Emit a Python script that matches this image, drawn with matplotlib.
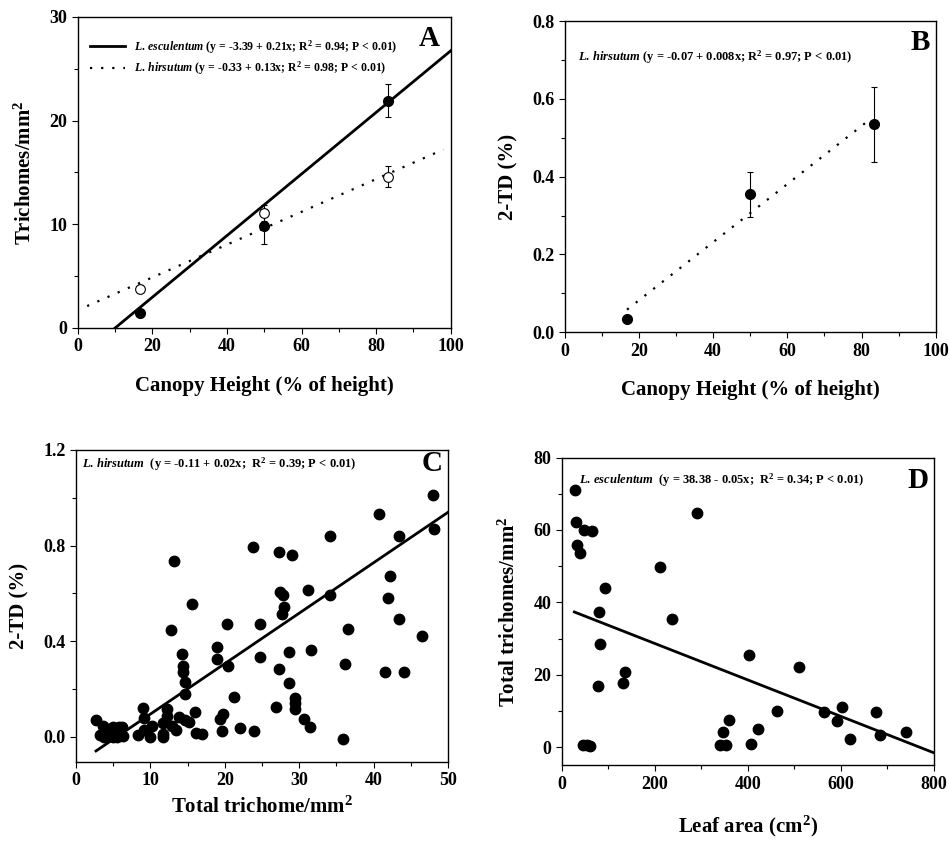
import numpy as np
import matplotlib
matplotlib.use('Agg')
import matplotlib.pyplot as plt
from matplotlib.ticker import MultipleLocator

plt.rcParams.update({
    'font.family': ['Liberation Serif', 'DejaVu Serif'],
    'font.weight': 'bold',
    'axes.labelweight': 'bold',
    'mathtext.fontset': 'custom',
    'mathtext.rm': 'Liberation Serif:bold',
    'mathtext.it': 'Liberation Serif:italic:bold',
    'mathtext.bf': 'Liberation Serif:bold',
    'axes.linewidth': 1.0,
    'xtick.direction': 'out',
    'ytick.direction': 'out',
    'xtick.major.size': 4,
    'ytick.major.size': 4,
    'xtick.minor.size': 3,
    'ytick.minor.size': 3,
    'xtick.labelsize': 13,
    'ytick.labelsize': 13,
    'axes.labelsize': 15,
})

# ---- panel A: trichome density vs canopy height
canopy = [16.7, 50.0, 83.3]
esc_trich = [1.4, 9.8, 21.9]
esc_err = [0.3, 1.7, 1.6]
hir_trich = [3.8, 11.1, 14.6]
hir_err = [0.3, 0.8, 1.0]
# regression lines as drawn (x range, intercept, slope)
esc_line_x = [10, 100]
esc_line_coef = (-2.97, 0.297)
hir_line_x = [2.5, 98]
hir_line_coef = (1.72, 0.158)

# ---- panel B: 2-TD vs canopy height (L. hirsutum)
td_canopy = [16.7, 50.0, 83.4]
td_mean = [0.034, 0.355, 0.535]
td_err_lo = [0.0, 0.058, 0.097]
td_err_hi = [0.0, 0.057, 0.095]
td_line_x = [16.8, 81.6]
td_line_coef = (-0.0675, 0.00747)

# ---- panel C: 2-TD vs total trichomes (L. hirsutum)
c_x = [48.0, 40.8, 48.1, 34.2, 43.4, 23.8, 27.3, 29.1, 13.2, 42.2,
       31.2, 27.4, 27.8, 34.1, 42.0, 28.0, 27.7, 15.6, 43.4, 20.3,
       24.8, 36.6, 12.8, 46.5, 19.0, 14.3, 28.6, 31.6, 24.8, 19.0,
       14.4, 20.5, 36.1, 14.4, 27.3, 41.6, 44.1, 14.7, 28.7, 14.7,
       21.2, 29.5, 29.5, 29.4, 26.9, 9.0, 12.2, 16.0, 19.8, 19.4,
       30.6, 9.1, 12.3, 13.9, 14.7, 15.2, 2.7, 3.7, 11.7, 12.9,
       13.4, 9.1, 8.4, 10.2, 10.0, 11.7, 11.7, 16.1, 17.0, 19.7,
       22.0, 23.9, 31.4, 35.9, 3.3, 4.1, 4.6, 5.0, 5.5, 5.8,
       6.2, 6.3, 5.0, 3.8, 5.7, 4.3]
c_y = [1.011, 0.933, 0.871, 0.842, 0.842, 0.794, 0.773, 0.762, 0.736, 0.671,
       0.613, 0.606, 0.594, 0.592, 0.582, 0.545, 0.513, 0.557, 0.491, 0.474,
       0.474, 0.452, 0.445, 0.421, 0.375, 0.348, 0.354, 0.364, 0.334, 0.324,
       0.298, 0.297, 0.303, 0.270, 0.285, 0.271, 0.271, 0.228, 0.225, 0.178,
       0.165, 0.161, 0.140, 0.115, 0.126, 0.119, 0.117, 0.105, 0.095, 0.076,
       0.074, 0.077, 0.087, 0.084, 0.070, 0.062, 0.070, 0.046, 0.056, 0.046,
       0.028, 0.028, 0.007, 0.046, -0.001, 0.000, 0.011, 0.014, 0.011, 0.025,
       0.035, 0.025, 0.042, -0.007, 0.007, 0.000, 0.017, 0.042, 0.000, 0.042,
       0.042, 0.003, 0.000, 0.000, 0.017, 0.031]
c_line_x = [2.7, 50]
c_line_coef = (-0.116, 0.0211)

# ---- panel D: total trichomes vs leaf area (L. esculentum)
d_x = [29.4, 30.8, 33.0, 38.7, 48.7, 65.2, 93.2, 81.0, 81.7, 77.4,
       46.6, 53.8, 61.6, 132.6, 135.5, 212.2, 236.6, 290.3, 340.5, 352.7,
       347.0, 359.1, 402.2, 407.9, 421.5, 463.8, 510.4, 563.4, 592.1, 602.9,
       620.1, 676.0, 684.6, 741.2]
d_y = [71.0, 62.1, 55.9, 53.5, 60.0, 59.7, 44.1, 37.4, 28.6, 16.8,
       0.7, 0.6, 0.3, 17.7, 20.7, 49.8, 35.3, 64.8, 0.5, 0.5,
       4.1, 7.5, 25.5, 0.9, 4.9, 9.9, 22.2, 9.8, 7.3, 11.2,
       2.4, 9.8, 3.4, 4.3]
d_line_x = [27, 800]
d_line_coef = (38.7, -0.0503)

DOT = (0, (1, 4))


def fit(xs, coef):
    xs = np.array(xs, dtype=float)
    return xs, coef[0] + coef[1] * xs


def style(ax, xmaj, xmin, ymaj, ymin):
    ax.xaxis.set_major_locator(MultipleLocator(xmaj))
    ax.xaxis.set_minor_locator(MultipleLocator(xmin))
    ax.yaxis.set_major_locator(MultipleLocator(ymaj))
    ax.yaxis.set_minor_locator(MultipleLocator(ymin))
    ax.tick_params(which='both', width=0.8)


fig = plt.figure(figsize=(9.49, 8.41), dpi=100)

# A
ax1 = fig.add_axes([0.082, 0.610, 0.393, 0.370])
ax1.plot(*fit(esc_line_x, esc_line_coef), color='black', lw=2,
         label=r'$\mathit{L.\,esculentum}$ (y = -3.39 + 0.21x; R$^2$ = 0.94; P < 0.01)')
ax1.plot(*fit(hir_line_x, hir_line_coef), color='black', lw=1.6, linestyle=DOT,
         label=r'$\mathit{L.\,hirsutum}$ (y = -0.33 + 0.13x; R$^2$ = 0.98; P < 0.01)')
ax1.errorbar(canopy, esc_trich, yerr=esc_err, fmt='o', color='black', ms=7,
             elinewidth=0.8, capsize=2.5, capthick=0.8)
ax1.errorbar(canopy, hir_trich, yerr=hir_err, fmt='o', color='black', mfc='white',
             ms=7, mew=0.8, elinewidth=0.8, capsize=2.5, capthick=0.8)
ax1.set_xlim(0, 100)
ax1.set_ylim(0, 30)
style(ax1, 20, 10, 10, 5)
ax1.set_xlabel('Canopy Height (% of height)', labelpad=15)
ax1.set_ylabel('Trichomes/mm$^2$', labelpad=10)
ax1.legend(loc='upper left', bbox_to_anchor=(0.0, 0.97), frameon=False,
           prop={'size': 8.5, 'weight': 'bold'}, handlelength=3.0,
           labelspacing=0.35, borderaxespad=0.6)
ax1.text(0.97, 0.93, 'A', transform=ax1.transAxes, ha='right', va='center',
         fontsize=21, fontweight='bold')

# B
ax2 = fig.add_axes([0.595, 0.605, 0.391, 0.370])
ax2.plot(*fit(td_line_x, td_line_coef), color='black', lw=1.6, linestyle=DOT)
ax2.errorbar(td_canopy, td_mean, yerr=[td_err_lo, td_err_hi], fmt='o', color='black',
             ms=7, elinewidth=0.8, capsize=2.5, capthick=0.8)
ax2.set_xlim(0, 100)
ax2.set_ylim(0, 0.8)
style(ax2, 20, 10, 0.2, 0.1)
ax2.yaxis.set_major_formatter(plt.FormatStrFormatter('%.1f'))
ax2.set_xlabel('Canopy Height (% of height)', labelpad=15)
ax2.set_ylabel('2-TD (%)', labelpad=10)
ax2.text(0.035, 0.885, r'$\mathit{L.\,hirsutum}$ (y = -0.07 + 0.008x; R$^2$ = 0.97; P < 0.01)',
         transform=ax2.transAxes, ha='left', va='center', fontsize=9, fontweight='bold')
ax2.text(0.985, 0.93, 'B', transform=ax2.transAxes, ha='right', va='center',
         fontsize=21, fontweight='bold')

# C
ax3 = fig.add_axes([0.080, 0.094, 0.392, 0.371])
ax3.plot(c_x, c_y, 'o', color='black', ms=7.5)
ax3.plot(*fit(c_line_x, c_line_coef), color='black', lw=2)
ax3.set_xlim(0, 50)
ax3.set_ylim(-0.105, 1.2)
style(ax3, 10, 5, 0.4, 0.2)
ax3.yaxis.set_major_formatter(plt.FormatStrFormatter('%.1f'))
ax3.set_xlabel('Total trichome/mm$^2$', labelpad=5)
ax3.set_ylabel('2-TD (%)', labelpad=10)
ax3.text(0.015, 0.955, r'$\mathit{L.\,hirsutum}$  (y = -0.11 + 0.02x;  R$^2$ = 0.39; P < 0.01)',
         transform=ax3.transAxes, ha='left', va='center', fontsize=9, fontweight='bold')
ax3.text(0.985, 0.955, 'C', transform=ax3.transAxes, ha='right', va='center',
         fontsize=21, fontweight='bold')

# D
ax4 = fig.add_axes([0.592, 0.090, 0.392, 0.366])
ax4.plot(d_x, d_y, 'o', color='black', ms=7.5)
ax4.plot(*fit(d_line_x, d_line_coef), color='black', lw=2)
ax4.set_xlim(0, 800)
ax4.set_ylim(-5, 80)
style(ax4, 200, 100, 20, 10)
ax4.set_xlabel('Leaf area (cm$^2$)', labelpad=15)
ax4.set_ylabel('Total trichomes/mm$^2$', labelpad=10)
ax4.text(0.045, 0.925, r'$\mathit{L.\,esculentum}$  (y = 38.38 - 0.05x;  R$^2$ = 0.34; P < 0.01)',
         transform=ax4.transAxes, ha='left', va='center', fontsize=9, fontweight='bold')
ax4.text(0.985, 0.925, 'D', transform=ax4.transAxes, ha='right', va='center',
         fontsize=21, fontweight='bold')

fig.savefig('out.png', dpi=100)
